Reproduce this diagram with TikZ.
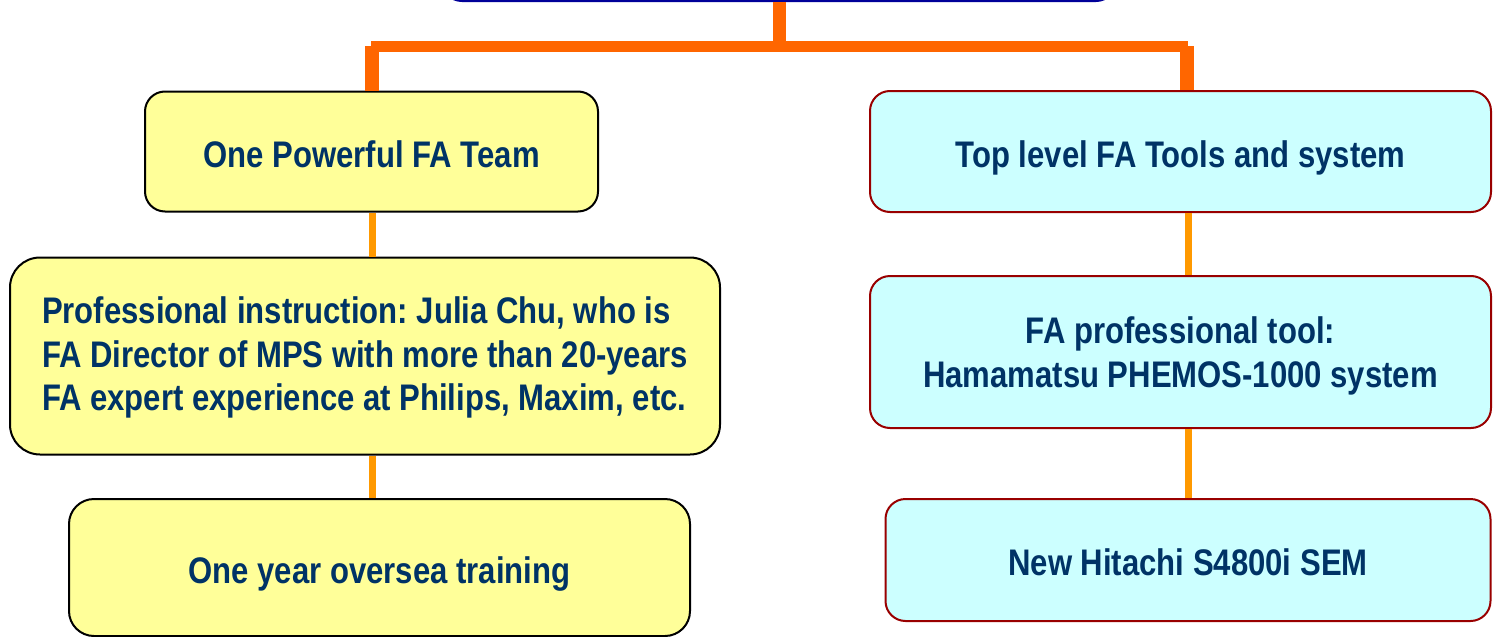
\documentclass[tikz,border=0pt]{standalone}
\usepackage{fontspec}
\setmainfont[FakeStretch=0.84]{Liberation Sans}
\frenchspacing
\definecolor{txt}{RGB}{0,51,102}
\definecolor{yfill}{RGB}{255,255,153}
\definecolor{cfill}{RGB}{204,255,255}
\definecolor{cborder}{RGB}{153,0,0}
\definecolor{rootborder}{RGB}{0,0,153}
\definecolor{trunkor}{RGB}{255,102,0}
\definecolor{linkor}{RGB}{255,153,0}
\begin{document}
\begin{tikzpicture}[x=1pt,y=-1pt,
  box/.style={line width=2pt, text=txt, inner sep=0pt, font=\bfseries\fontsize{37}{44}\selectfont},
  single/.style={text height=31pt, text depth=0pt},
  ybox/.style={box, draw=black, fill=yfill},
  cbox/.style={box, draw=cborder, fill=cfill, rounded corners=20pt},
  trunk/.style={draw=trunkor, line cap=butt},
  link/.style={draw=linkor, line width=7pt, line cap=butt}]
\useasboundingbox (0,0) rectangle (1494,637);
% root box (mostly above the picture)
\node[draw=rootborder, fill=white, line width=2pt, rounded corners=20pt,
      minimum width=674pt, minimum height=82pt] (root) at (779,-40) {};
% left column
\node[ybox, single, rounded corners=20pt, minimum width=453pt, minimum height=120pt] (l1) at (371.5,151.5) {One Powerful FA Team};
\node[ybox, rounded corners=30pt, minimum width=710pt, minimum height=197pt, align=left,
      font=\bfseries\fontsize{37}{43.5}\selectfont, text depth=4pt] (l2) at (365,356)
  {Professional instruction: Julia Chu, who is\\FA Director of MPS with more than 20-years\\FA expert experience at Philips, Maxim, etc.};
\node[ybox, single, rounded corners=25pt, minimum width=621pt, minimum height=137pt] (l3) at (379.5,567.5) {One year oversea training};
% right column
\node[cbox, single, minimum width=621pt, minimum height=121pt] (r1) at (1180.5,151.5) {Top level FA Tools and system};
\node[cbox, minimum width=621pt, minimum height=152pt, align=center,
      font=\bfseries\fontsize{37}{44}\selectfont, text depth=0pt] (r2) at (1180.5,352)
  {FA professional tool:\\Hamamatsu PHEMOS-1000 system};
\node[cbox, single, minimum width=605pt, minimum height=122pt] (r3) at (1188,560) {New Hitachi S4800i SEM};
% trunk
\coordinate (bl) at (371,46.5);
\coordinate (br) at (1188,46.5);
\coordinate (dl) at (372,46);
\coordinate (dr) at (1187,46);
\draw[trunk, line width=13pt] (root.south -| 779.5,0) -- (779.5,46.5);
\draw[trunk, line width=11pt] (bl) -- (br);
\draw[trunk, line width=14pt] (dl) -- (dl |- l1.north);
\draw[trunk, line width=14pt] (dr) -- (dr |- r1.north);
% links
\draw[link] (372,0 |- l1.south) -- (372,0 |- l2.north);
\draw[link] (372,0 |- l2.south) -- (372,0 |- l3.north);
\draw[link] (1188,0 |- r1.south) -- (1188,0 |- r2.north);
\draw[link] (1188,0 |- r2.south) -- (1188,0 |- r3.north);
\end{tikzpicture}
\end{document}
